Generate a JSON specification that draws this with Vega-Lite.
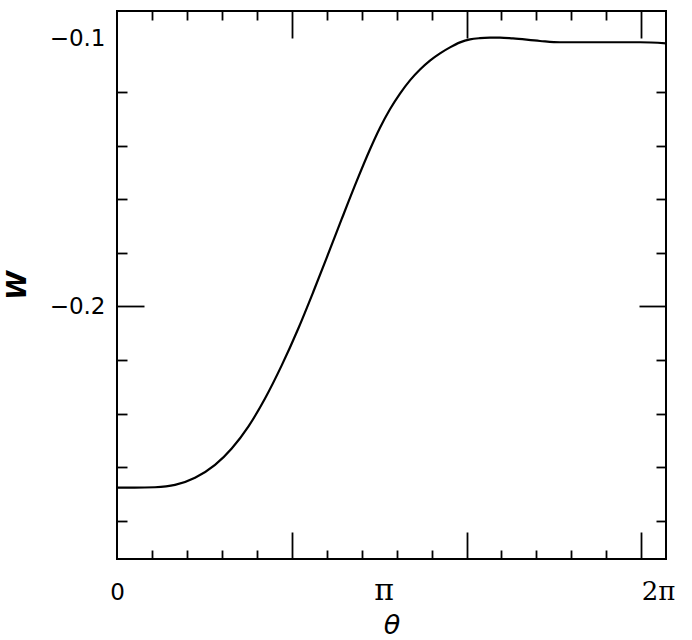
{
  "$schema": "https://vega.github.io/schema/vega-lite/v6.json",
  "width": 549,
  "height": 548,
  "autosize": "none",
  "padding": {"left": 117, "top": 11, "right": 26, "bottom": 81},
  "background": "white",
  "config": {
    "view": {"stroke": "black", "strokeWidth": 2},
    "axis": {"grid": false, "domain": false, "tickColor": "black", "tickWidth": 1.8, "labelColor": "black", "titleColor": "black"}
  },
  "data": {
    "values": [
      {"theta": 0, "W": -0.2676},
      {"theta": 0.2, "W": -0.2676},
      {"theta": 0.435, "W": -0.26744},
      {"theta": 0.664, "W": -0.26655},
      {"theta": 0.893, "W": -0.26386},
      {"theta": 1.122, "W": -0.25909},
      {"theta": 1.313, "W": -0.25297},
      {"theta": 1.503, "W": -0.2448},
      {"theta": 1.694, "W": -0.23432},
      {"theta": 1.885, "W": -0.22198},
      {"theta": 2.075, "W": -0.20821},
      {"theta": 2.247, "W": -0.19451},
      {"theta": 2.438, "W": -0.17863},
      {"theta": 2.572, "W": -0.16737},
      {"theta": 2.743, "W": -0.15327},
      {"theta": 2.896, "W": -0.14137},
      {"theta": 3.01, "W": -0.13335},
      {"theta": 3.124, "W": -0.12645},
      {"theta": 3.239, "W": -0.1206},
      {"theta": 3.353, "W": -0.11567},
      {"theta": 3.468, "W": -0.11161},
      {"theta": 3.582, "W": -0.10829},
      {"theta": 3.697, "W": -0.1056},
      {"theta": 3.811, "W": -0.10336},
      {"theta": 3.926, "W": -0.1015},
      {"theta": 4.04, "W": -0.10038},
      {"theta": 4.154, "W": -0.09993},
      {"theta": 4.269, "W": -0.09975},
      {"theta": 4.383, "W": -0.09971},
      {"theta": 4.532, "W": -0.10004},
      {"theta": 4.841, "W": -0.10098},
      {"theta": 5.07, "W": -0.10146},
      {"theta": 5.528, "W": -0.10146},
      {"theta": 5.986, "W": -0.10146},
      {"theta": 6.283, "W": -0.10184}
    ]
  },
  "resolve": {"axis": {"x": "independent", "y": "independent"}},
  "layer": [
    {
      "mark": {"type": "line", "color": "black", "strokeWidth": 2.2, "interpolate": "monotone"},
      "encoding": {
        "x": {
          "field": "theta", "type": "quantitative",
          "scale": {"domain": [0, 6.2831853], "nice": false, "zero": false},
          "axis": {
            "orient": "bottom", "title": null, "labels": false,
            "values": [0.4, 0.8, 1.2, 1.6, 2, 2.4, 2.8, 3.2, 3.6, 4, 4.4, 4.8, 5.2, 5.6, 6],
            "tickSize": {"condition": {"test": "abs(datum.value - 2) < 1e-6 || abs(datum.value - 4) < 1e-6 || abs(datum.value - 6) < 1e-6", "value": -27}, "value": -9}
          }
        },
        "y": {
          "field": "W", "type": "quantitative",
          "scale": {"domain": [-0.2942, -0.0898], "nice": false, "zero": false},
          "axis": {
            "orient": "left", "title": null, "labels": false,
            "values": [-0.28, -0.26, -0.24, -0.22, -0.2, -0.18, -0.16, -0.14, -0.12],
            "tickSize": {"condition": {"test": "abs(datum.value + 0.2) < 1e-6", "value": -27}, "value": -10}
          }
        }
      }
    },
    {
      "mark": {"type": "line", "opacity": 0},
      "encoding": {
        "x": {
          "field": "theta", "type": "quantitative",
          "axis": {
            "orient": "top", "title": null, "labels": false,
            "values": [0.4, 0.8, 1.2, 1.6, 2, 2.4, 2.8, 3.2, 3.6, 4, 4.4, 4.8, 5.2, 5.6, 6],
            "tickSize": {"condition": {"test": "abs(datum.value - 2) < 1e-6 || abs(datum.value - 4) < 1e-6 || abs(datum.value - 6) < 1e-6", "value": -27}, "value": -9}
          }
        },
        "y": {
          "field": "W", "type": "quantitative",
          "axis": {
            "orient": "right", "title": null, "labels": false,
            "values": [-0.28, -0.26, -0.24, -0.22, -0.2, -0.18, -0.16, -0.14, -0.12],
            "tickSize": {"condition": {"test": "abs(datum.value + 0.2) < 1e-6", "value": -27}, "value": -10}
          }
        }
      }
    },
    {
      "mark": {"type": "line", "opacity": 0},
      "encoding": {
        "x": {
          "field": "theta", "type": "quantitative",
          "axis": {
            "orient": "bottom", "title": "θ", "ticks": false, "tickSize": 0,
            "values": [0, 3.14159265, 6.2831853],
            "labelExpr": "datum.value < 1 ? '0' : (datum.value < 4 ? 'π' : '2π')",
            "labelFont": {"condition": {"test": "datum.value > 1", "value": "DejaVu Serif"}, "value": "DejaVu Sans"},
            "labelFontSize": {"condition": [{"test": "datum.value > 1 && datum.value < 4", "value": 30}, {"test": "datum.value > 4", "value": 26}], "value": 23},
            "labelBaseline": "alphabetic", "labelPadding": 40,
            "labelFlush": false, "labelOverlap": false, "labelBound": false,
            "labelOffset": {"condition": {"test": "datum.value > 1", "value": -8}, "value": 0},
            "titleFont": "DejaVu Sans", "titleFontSize": 27, "titleFontStyle": "italic", "titleFontWeight": "normal", "titlePadding": 7
          }
        },
        "y": {
          "field": "W", "type": "quantitative",
          "axis": {
            "orient": "left", "title": "W", "ticks": false, "tickSize": 0,
            "values": [-0.2, -0.1], "format": ".1f",
            "labelFont": "DejaVu Sans", "labelFontSize": 23, "labelPadding": 12,
            "labelOverlap": false, "labelBound": false, "labelFlush": false,
            "titleFont": "DejaVu Sans", "titleFontSize": 26, "titleFontStyle": "italic", "titleFontWeight": "bold", "titlePadding": 19
          }
        }
      }
    }
  ]
}
